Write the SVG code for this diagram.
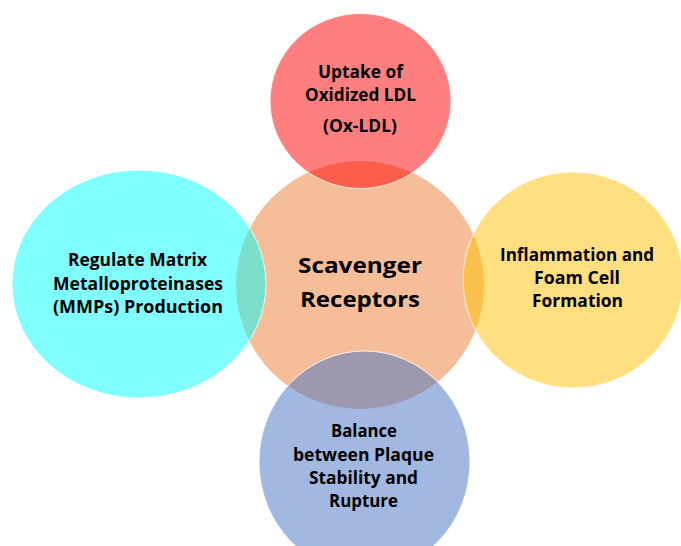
<svg xmlns="http://www.w3.org/2000/svg" width="681" height="546" viewBox="0 0 681 546">
  <style>
    .blob { stroke: #ffffff; stroke-width: 1; stroke-opacity: 0.8; fill-opacity: 0.5; }
    .lbl { font-family: "Open Sans", Lato, "Liberation Sans", sans-serif; font-weight: bold; font-size: 17px; fill: #000000; }
    .hub { font-size: 22px; }
  </style>
  <rect width="681" height="546" fill="#ffffff"/>

  <!-- central hub -->
  <g id="node-scavenger-receptors">
    <circle cx="360" cy="285" r="124" fill="#ED7D31" fill-opacity="0.5"/>
  </g>

  <!-- satellites, translucent so the overlaps blend -->
  <g id="node-oxldl">
    <ellipse class="blob" cx="360.5" cy="101" rx="90.5" ry="87.5" fill="#FF0000"/>
    <text class="lbl" x="360.5" y="78" text-anchor="middle" textLength="85" lengthAdjust="spacingAndGlyphs">Uptake of</text>
    <text class="lbl" x="360.5" y="101" text-anchor="middle" textLength="111" lengthAdjust="spacingAndGlyphs">Oxidized LDL</text>
    <text class="lbl" x="360" y="132" text-anchor="middle" textLength="74" lengthAdjust="spacingAndGlyphs">(Ox-LDL)</text>
  </g>

  <g id="node-mmps">
    <ellipse class="blob" cx="139" cy="284" rx="127" ry="114" fill="#00FFFF"/>
    <text class="lbl" x="137.5" y="266" text-anchor="middle" textLength="139" lengthAdjust="spacingAndGlyphs">Regulate Matrix</text>
    <text class="lbl" x="138" y="290" text-anchor="middle" textLength="170" lengthAdjust="spacingAndGlyphs">Metalloproteinases</text>
    <text class="lbl" x="138" y="313" text-anchor="middle" textLength="170" lengthAdjust="spacingAndGlyphs">(MMPs) Production</text>
  </g>

  <g id="node-inflammation">
    <ellipse class="blob" cx="573" cy="280" rx="110" ry="108" fill="#FFBF00"/>
    <text class="lbl" x="577" y="261" text-anchor="middle" textLength="154" lengthAdjust="spacingAndGlyphs">Inflammation and</text>
    <text class="lbl" x="577" y="284" text-anchor="middle" textLength="86" lengthAdjust="spacingAndGlyphs">Foam Cell</text>
    <text class="lbl" x="577.5" y="307" text-anchor="middle" textLength="91" lengthAdjust="spacingAndGlyphs">Formation</text>
  </g>

  <g id="node-plaque">
    <ellipse class="blob" cx="364.5" cy="462" rx="105.5" ry="111" fill="#4472C4"/>
    <text class="lbl" x="364" y="437" text-anchor="middle" textLength="66" lengthAdjust="spacingAndGlyphs">Balance</text>
    <text class="lbl" x="363.5" y="461" text-anchor="middle" textLength="141" lengthAdjust="spacingAndGlyphs">between Plaque</text>
    <text class="lbl" x="363.5" y="484" text-anchor="middle" textLength="109" lengthAdjust="spacingAndGlyphs">Stability and</text>
    <text class="lbl" x="363.5" y="507" text-anchor="middle" textLength="69" lengthAdjust="spacingAndGlyphs">Rupture</text>
  </g>

  <!-- hub label on top -->
  <g id="hub-label">
    <text class="lbl hub" x="360" y="273" text-anchor="middle" textLength="124" lengthAdjust="spacingAndGlyphs">Scavenger</text>
    <text class="lbl hub" x="360" y="307" text-anchor="middle" textLength="120" lengthAdjust="spacingAndGlyphs">Receptors</text>
  </g>

  <g id="connectors"/>
</svg>
